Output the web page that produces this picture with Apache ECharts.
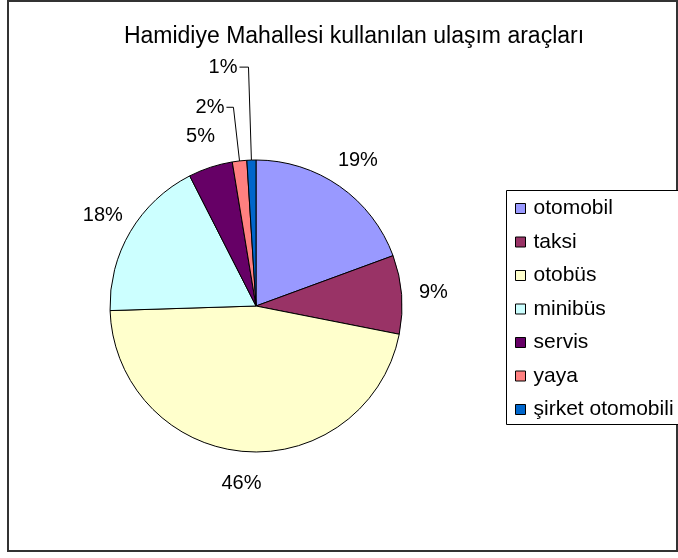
<!DOCTYPE html>
<html>
<head>
<meta charset="utf-8">
<script src="https://cdn.jsdelivr.net/npm/echarts@6/dist/echarts.min.js"></script>
<style>
  html, body { margin: 0; padding: 0; background: #fff; }
  #chart { width: 678px; height: 558px; }
</style>
</head>
<body>
<div id="chart"></div>
<script>
const chartTitle = 'Hamidiye Mahallesi kullanılan ulaşım araçları'
const categories = ['otomobil', 'taksi', 'otobüs', 'minibüs', 'servis', 'yaya', 'şirket otomobili']
const shares = [19.4, 8.7, 46.4, 18.0, 4.9, 1.6, 1.0]
const sliceColors = ['#9999FF', '#993366', '#FFFFCC', '#CCFFFF', '#660066', '#FF8080', '#0066CC']
// small slices get a leader line instead of a ring label
const leaderLength = { 'yaya': 54, 'şirket otomobili': 93 }

const font = 'Arial, "Liberation Sans", sans-serif'
const pieCenter = [256, 306]

const mainData = categories.map((name, i) => {
    const item = { name: name, value: shares[i], itemStyle: { color: sliceColors[i] } }
    if (leaderLength[name]) {
        item.label = { show: true }
        item.labelLine = { show: true, length: leaderLength[name], length2: name === 'yaya' ? 7 : 9 }
    }
    return item
})

const ringData = categories.map((name, i) => ({
    name: name,
    value: shares[i],
    label: { show: !leaderLength[name] }
}))

const pctLabel = (p) => Math.round(p.percent) + '%'

let chart = echarts.init(document.getElementById('chart'))
chart.setOption({
    animation: false,
    backgroundColor: '#fff',
    title: {
        text: chartTitle,
        left: 349,
        textAlign: 'center',
        top: 20,
        textStyle: { fontFamily: font, fontSize: 23, fontWeight: 'normal', color: '#000' }
    },
    legend: {
        orient: 'vertical',
        left: 515,
        top: 198,
        padding: 0,
        itemWidth: 10,
        itemHeight: 10,
        itemGap: 12.5,
        icon: 'rect',
        itemStyle: { borderColor: '#000', borderWidth: 1 },
        textStyle: { fontFamily: font, fontSize: 21, color: '#000', lineHeight: 21, padding: [0, 0, 0, 3] },
        data: categories
    },
    graphic: [
        {
            type: 'rect',
            z: -10,
            shape: { x: 8, y: 1, width: 669, height: 550 },
            style: { fill: 'none', stroke: '#333', lineWidth: 2 }
        },
        {
            // legend frame runs past the right edge, as in the source
            type: 'rect',
            z: 1,
            shape: { x: 506.5, y: 190.5, width: 220, height: 234 },
            style: { fill: '#fff', stroke: '#000', lineWidth: 1 }
        }
    ],
    series: [
        {
            type: 'pie',
            center: pieCenter,
            radius: [0, 146],
            startAngle: 90,
            clockwise: true,
            avoidLabelOverlap: false,
            label: {
                show: false,
                position: 'outside',
                formatter: pctLabel,
                fontFamily: font,
                fontSize: 20,
                color: '#000',
                distanceToLabelLine: 2
            },
            labelLine: { show: false, lineStyle: { color: '#000', width: 1 } },
            itemStyle: { borderColor: '#000', borderWidth: 1 },
            emphasis: { disabled: true },
            data: mainData
        },
        {
            type: 'pie',
            center: pieCenter,
            radius: [146, 204],
            startAngle: 90,
            clockwise: true,
            silent: true,
            label: {
                position: 'inside',
                formatter: pctLabel,
                fontFamily: font,
                fontSize: 20,
                color: '#000'
            },
            labelLine: { show: false },
            itemStyle: { color: 'rgba(0,0,0,0)', borderWidth: 0 },
            emphasis: { disabled: true },
            data: ringData
        }
    ]
})
</script>
</body>
</html>
